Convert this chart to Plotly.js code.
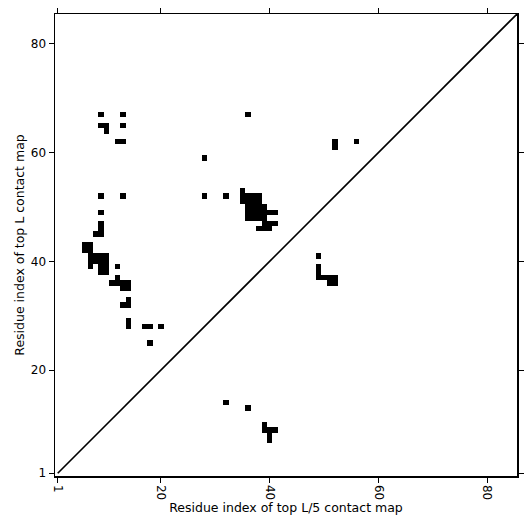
<!DOCTYPE html>
<html>
<head>
<meta charset="utf-8">
<script src="https://cdn.plot.ly/plotly-3.0.1.min.js"></script>
<style>html,body{margin:0;padding:0;background:#fff;}#chart{width:531px;height:531px;}</style>
</head>
<body>
<div id="chart"></div>
<script>
const L = 85;
const tickVals = [1, 20, 40, 60, 80];
const tickText = ['1', '20', '40', '60', '80'];

// Upper triangle: top L contact map (x = residue i, y = residue j)
const upperX = [9,13,9,10,10,13,12,13,9,13,9,9,9,8,9,6,7,6,7,7,8,9,10,7,8,9,10,7,9,10,9,10,12,12,11,12,13,14,13,14,14,13,14,14,14,17,18,20,18,
  28,28,32,36,35,35,35,36,37,38,36,37,38,36,37,38,39,36,37,38,39,40,41,36,37,38,39,39,40,41,38,39,40,
  49,49,49,49,50,51,52,51,52,52,52,56];
const upperY = [67,67,65,65,64,65,62,62,52,52,49,47,46,45,45,43,43,42,42,41,41,41,41,40,40,40,40,39,39,39,38,38,39,37,36,36,36,36,35,35,33,32,32,29,28,28,28,28,25,
  59,52,52,67,53,52,51,52,52,52,51,51,51,50,50,50,50,49,49,49,49,49,49,48,48,48,48,47,47,47,46,46,46,
  41,39,38,37,37,37,37,36,36,62,61,62];

// Lower triangle: top L/5 contact map
const lowerX = [32,36,39,39,40,41,40,40];
const lowerY = [14,13,10,9,9,9,8,7];

const residues = [];
for (let i = 1; i <= L; i++) residues.push(i);
const z = residues.map(() => residues.map(() => null));
function mark(xs, ys) { xs.forEach((x, k) => { z[ys[k] - 1][x - 1] = 1; }); }
mark(upperX, upperY);
mark(lowerX, lowerY);

const font = {family: 'DejaVu Sans, sans-serif', color: '#000'};

const traces = [
  {
    type: 'heatmap', x: residues, y: residues, z: z,
    colorscale: [[0, '#000'], [1, '#000']], showscale: false,
    zmin: 0, zmax: 1, hoverinfo: 'skip', xgap: 0, ygap: 0
  },
  {
    type: 'scatter', mode: 'lines', x: [1, L + 0.5], y: [1, L + 0.5],
    line: {color: '#000', width: 1.6}, hoverinfo: 'skip', showlegend: false
  }
];

const axisBase = {
  range: [0.5, L + 0.5], tickvals: tickVals, ticktext: tickText,
  ticks: 'outside', ticklen: 5, tickwidth: 1, tickcolor: '#000',
  showline: true, linecolor: '#000', linewidth: 1.5, mirror: 'ticks',
  showgrid: false, zeroline: false,
  tickfont: Object.assign({size: 12}, font)
};

const layout = {
  width: 531, height: 531,
  margin: {l: 55, r: 14, t: 14, b: 55},
  paper_bgcolor: '#fff', plot_bgcolor: '#fff',
  showlegend: false,
  xaxis: Object.assign({}, axisBase, {
    tickangle: 90,
    title: {text: 'Residue index of top L/5 contact map', font: Object.assign({size: 12.5}, font), standoff: 4}
  }),
  yaxis: Object.assign({}, axisBase, {
    title: {text: 'Residue index of top L contact map', font: Object.assign({size: 12.5}, font), standoff: 3}
  })
};

Plotly.newPlot('chart', traces, layout, {staticPlot: true, displayModeBar: false});
</script>
</body>
</html>
